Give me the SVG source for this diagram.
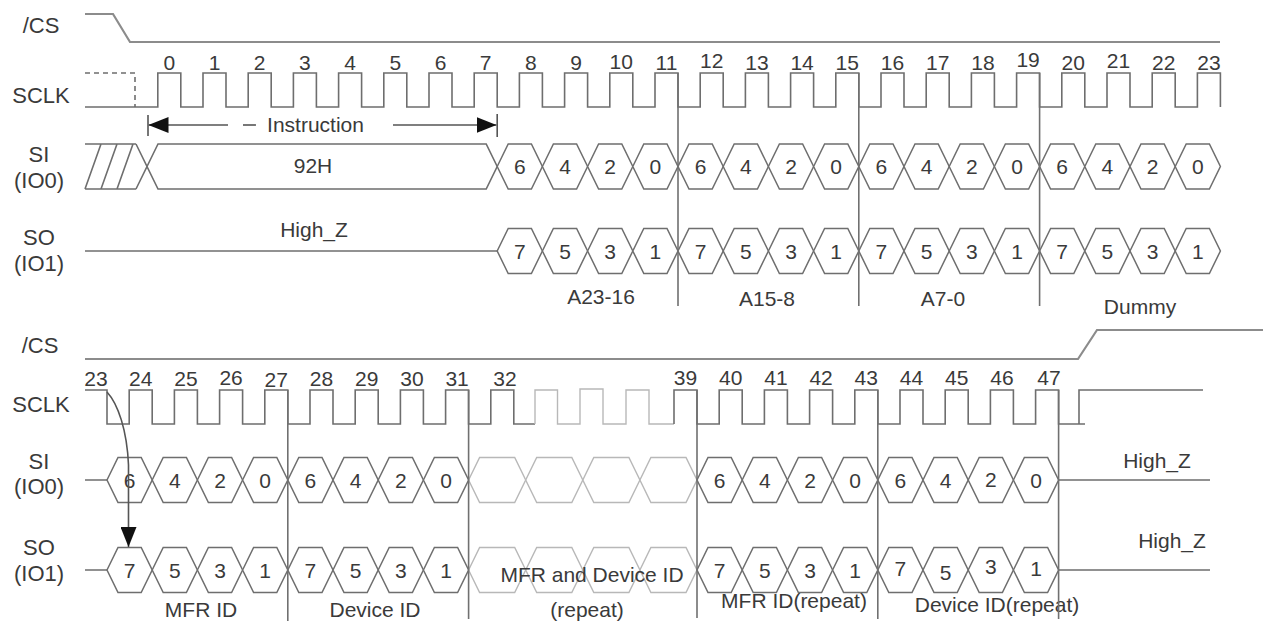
<svg xmlns="http://www.w3.org/2000/svg" width="1263" height="625" viewBox="0 0 1263 625">
<style>
text{font-family:"Liberation Sans",Arial,sans-serif;fill:#3a3a3a;font-size:21px}
.m{text-anchor:middle}
.lbl{font-size:22px;text-anchor:middle}
.w{fill:none;stroke:#6e6e6e;stroke-width:1.6}
.cs{fill:none;stroke:#8c8c8c;stroke-width:2.2}
.f{fill:none;stroke:#b8b8b8;stroke-width:1.4}
.v{fill:none;stroke:#707070;stroke-width:1.6}
.ar{fill:none;stroke:#555;stroke-width:1.6}
</style>
<defs>
<path id="c" d="M0,0 L11,-22.5 H34.2 L45.2,0 L34.2,22.5 H11 Z" fill="#fff" stroke="#6e6e6e" stroke-width="1.5"/>
<path id="fc" d="M0,0 L11,-22.5 H46.1 L57.1,0 L46.1,22.5 H11 Z" fill="none" stroke="#b8b8b8" stroke-width="1.4"/>
<marker id="ah" viewBox="0 0 20 16" refX="20" refY="8" markerWidth="20" markerHeight="16" markerUnits="userSpaceOnUse" orient="auto"><path d="M0,0 L20,8 L0,16 Z" fill="#111"/></marker>
</defs>
<rect width="1263" height="625" fill="#fff"/>

<g id="labels">
<text class="lbl" x="41" y="33">/CS</text>
<text class="lbl" x="41" y="103">SCLK</text>
<text class="lbl" x="39" y="162">SI</text>
<text class="lbl" x="39" y="188">(IO0)</text>
<text class="lbl" x="39" y="245">SO</text>
<text class="lbl" x="39" y="271">(IO1)</text>
<text class="lbl" x="40" y="353">/CS</text>
<text class="lbl" x="41" y="412">SCLK</text>
<text class="lbl" x="39" y="469">SI</text>
<text class="lbl" x="39" y="494">(IO0)</text>
<text class="lbl" x="39" y="555">SO</text>
<text class="lbl" x="39" y="581">(IO1)</text>
</g>

<g id="cs-top"><path class="cs" d="M85,14 H113 L130,42 H1220"/></g>

<g id="sclk-top">
<path class="w" d="M85,73 H135 V107" stroke-dasharray="5,4"/>
<path class="w" d="M85,107 H157.8 V73 H180.8 V107 H203 V73 H226 V107 H248.2 V73 H271.2 V107 H293.4 V73 H316.4 V107 H338.6 V73 H361.6 V107 H383.8 V73 H406.8 V107 H429 V73 H452 V107 H474.2 V73 H497.2 V107 H519.4 V73 H542.4 V107 H564.6 V73 H587.6 V107 H609.8 V73 H632.8 V107 H655 V73 H678 V107 H700.2 V73 H723.2 V107 H745.4 V73 H768.4 V107 H790.6 V73 H813.6 V107 H835.8 V73 H858.8 V107 H881 V73 H904 V107 H926.2 V73 H949.2 V107 H971.4 V73 H994.4 V107 H1016.6 V73 H1039.6 V107 H1061.8 V73 H1084.8 V107 H1107 V73 H1130 V107 H1152.2 V73 H1175.2 V107 H1197.4 V73 H1220.4 V107"/>
<g class="m">
<text x="169.3" y="70">0</text><text x="214.5" y="70">1</text><text x="259.7" y="70">2</text><text x="304.9" y="70">3</text><text x="350.1" y="70">4</text><text x="395.3" y="70">5</text><text x="440.5" y="70">6</text><text x="485.7" y="70">7</text><text x="530.9" y="70">8</text><text x="576.1" y="70">9</text><text x="621.3" y="69">10</text><text x="666.5" y="70">11</text><text x="711.7" y="68">12</text><text x="756.9" y="70">13</text><text x="802.1" y="70">14</text><text x="847.3" y="70">15</text><text x="892.5" y="70">16</text><text x="937.7" y="70">17</text><text x="982.9" y="70">18</text><text x="1028.1" y="67">19</text><text x="1073.3" y="70">20</text><text x="1118.5" y="68">21</text><text x="1163.7" y="70">22</text><text x="1208.9" y="70">23</text>
</g>
</g>

<g id="si-top">
<path class="w" d="M85,144 H136 M85,189 H136 M85,189 L101,144 M101,189 L117,144 M117,189 L133,144 M136,144 L147,166.5 L136,189"/>
<path class="w" d="M147,166.5 L158,144 H486.2 L497.2,166.5 L486.2,189 H158 Z"/>
<text class="m" x="313" y="173">92H</text>
<use href="#c" x="497.2" y="166.5"/><use href="#c" x="542.4" y="166.5"/><use href="#c" x="587.6" y="166.5"/><use href="#c" x="632.8" y="166.5"/><use href="#c" x="678" y="166.5"/><use href="#c" x="723.2" y="166.5"/><use href="#c" x="768.4" y="166.5"/><use href="#c" x="813.6" y="166.5"/><use href="#c" x="858.8" y="166.5"/><use href="#c" x="904" y="166.5"/><use href="#c" x="949.2" y="166.5"/><use href="#c" x="994.4" y="166.5"/><use href="#c" x="1039.6" y="166.5"/><use href="#c" x="1084.8" y="166.5"/><use href="#c" x="1130" y="166.5"/><use href="#c" x="1175.2" y="166.5"/>
<g class="m">
<text x="519.8" y="174">6</text><text x="565" y="174">4</text><text x="610.2" y="174">2</text><text x="655.4" y="174">0</text><text x="700.6" y="174">6</text><text x="745.8" y="174">4</text><text x="791" y="174">2</text><text x="836.2" y="174">0</text><text x="881.4" y="174">6</text><text x="926.6" y="174">4</text><text x="971.8" y="174">2</text><text x="1017" y="174">0</text><text x="1062.2" y="174">6</text><text x="1107.4" y="174">4</text><text x="1152.6" y="174">2</text><text x="1197.8" y="174">0</text>
</g>
</g>

<g id="so-top">
<path class="w" d="M85,251 H497.2"/>
<text class="m" x="314" y="237">High_Z</text>
<use href="#c" x="497.2" y="251"/><use href="#c" x="542.4" y="251"/><use href="#c" x="587.6" y="251"/><use href="#c" x="632.8" y="251"/><use href="#c" x="678" y="251"/><use href="#c" x="723.2" y="251"/><use href="#c" x="768.4" y="251"/><use href="#c" x="813.6" y="251"/><use href="#c" x="858.8" y="251"/><use href="#c" x="904" y="251"/><use href="#c" x="949.2" y="251"/><use href="#c" x="994.4" y="251"/><use href="#c" x="1039.6" y="251"/><use href="#c" x="1084.8" y="251"/><use href="#c" x="1130" y="251"/><use href="#c" x="1175.2" y="251"/>
<g class="m">
<text x="519.8" y="259">7</text><text x="565" y="259">5</text><text x="610.2" y="259">3</text><text x="655.4" y="259">1</text><text x="700.6" y="259">7</text><text x="745.8" y="259">5</text><text x="791" y="259">3</text><text x="836.2" y="259">1</text><text x="881.4" y="259">7</text><text x="926.6" y="259">5</text><text x="971.8" y="259">3</text><text x="1017" y="259">1</text><text x="1062.2" y="259">7</text><text x="1107.4" y="259">5</text><text x="1152.6" y="259">3</text><text x="1197.8" y="259">1</text>
</g>
<text class="m" x="601" y="304">A23-16</text>
<text class="m" x="767" y="306">A15-8</text>
<text class="m" x="943" y="306">A7-0</text>
<text class="m" x="1140" y="314">Dummy</text>
</g>

<g id="cs-bottom"><path class="cs" d="M85,359 H1078 L1097,330 H1263"/></g>

<g id="sclk-bottom">
<path class="w" d="M85,390 H107 V424 H129.2 V390 H152.2 V424 H174.4 V390 H197.4 V424 H219.6 V390 H242.6 V424 H264.8 V390 H287.8 V424 H310 V390 H333 V424 H355.2 V390 H378.2 V424 H400.4 V390 H423.4 V424 H445.6 V390 H468.6 V424 H490.8 V390 H513.8 V424 H535"/>
<path class="f" d="M535,424 V390 H557.5 V424 H580 V389 H603 V424 H626 V390 H649 V424 H674"/>
<path class="w" d="M674,424 V390 H697 V424 H719.2 V390 H742.2 V424 H764.4 V390 H787.4 V424 H809.6 V390 H832.6 V424 H854.8 V390 H877.8 V424 H900 V390 H923 V424 H945.2 V390 H968.2 V424 H990.4 V390 H1013.4 V424 H1035.6 V390 H1058.6 V424 H1085 M1079,424 V390 H1203"/>
<g class="m">
<text x="96" y="386">23</text><text x="140.7" y="386">24</text><text x="185.9" y="386">25</text><text x="231.1" y="385">26</text><text x="276.3" y="387">27</text><text x="321.5" y="386">28</text><text x="366.7" y="386">29</text><text x="411.9" y="386">30</text><text x="457.1" y="386">31</text><text x="505" y="386">32</text><text x="685.5" y="385">39</text><text x="730.7" y="385">40</text><text x="775.9" y="385">41</text><text x="821.1" y="385">42</text><text x="866.3" y="385">43</text><text x="911.5" y="385">44</text><text x="956.7" y="385">45</text><text x="1001.9" y="385">46</text><text x="1049" y="385">47</text>
</g>
</g>

<g id="si-bottom">
<path class="w" d="M85,480 H107 M1058.6,480 H1210"/>
<use href="#c" x="107" y="480"/><use href="#c" x="152.2" y="480"/><use href="#c" x="197.4" y="480"/><use href="#c" x="242.6" y="480"/><use href="#c" x="287.8" y="480"/><use href="#c" x="333" y="480"/><use href="#c" x="378.2" y="480"/><use href="#c" x="423.4" y="480"/>
<use href="#fc" x="468.6" y="480"/><use href="#fc" x="525.7" y="480"/><use href="#fc" x="582.8" y="480"/><use href="#fc" x="639.9" y="480"/>
<use href="#c" x="697" y="480"/><use href="#c" x="742.2" y="480"/><use href="#c" x="787.4" y="480"/><use href="#c" x="832.6" y="480"/><use href="#c" x="877.8" y="480"/><use href="#c" x="923" y="480"/><use href="#c" x="968.2" y="480"/><use href="#c" x="1013.4" y="480"/>
<g class="m">
<text x="129.6" y="488">6</text><text x="174.8" y="488">4</text><text x="220" y="488">2</text><text x="265.2" y="488">0</text><text x="310.4" y="488">6</text><text x="355.6" y="488">4</text><text x="400.8" y="488">2</text><text x="446" y="488">0</text>
<text x="719.6" y="488">6</text><text x="764.8" y="488">4</text><text x="810" y="488">2</text><text x="855.2" y="488">0</text><text x="900.4" y="488">6</text><text x="945.6" y="488">4</text><text x="990.8" y="487">2</text><text x="1036" y="488">0</text>
</g>
<text class="m" x="1157" y="468">High_Z</text>
</g>

<g id="so-bottom">
<path class="w" d="M85,570 H107 M1058.6,570 H1210"/>
<use href="#c" x="107" y="570"/><use href="#c" x="152.2" y="570"/><use href="#c" x="197.4" y="570"/><use href="#c" x="242.6" y="570"/><use href="#c" x="287.8" y="570"/><use href="#c" x="333" y="570"/><use href="#c" x="378.2" y="570"/><use href="#c" x="423.4" y="570"/>
<use href="#fc" x="468.6" y="570"/><use href="#fc" x="525.7" y="570"/><use href="#fc" x="582.8" y="570"/><use href="#fc" x="639.9" y="570"/>
<use href="#c" x="697" y="570"/><use href="#c" x="742.2" y="570"/><use href="#c" x="787.4" y="570"/><use href="#c" x="832.6" y="570"/><use href="#c" x="877.8" y="570"/><use href="#c" x="923" y="570"/><use href="#c" x="968.2" y="570"/><use href="#c" x="1013.4" y="570"/>
<g class="m">
<text x="129.6" y="578">7</text><text x="174.8" y="578">5</text><text x="220" y="578">3</text><text x="265.2" y="578">1</text><text x="310.4" y="578">7</text><text x="355.6" y="578">5</text><text x="400.8" y="578">3</text><text x="446" y="578">1</text>
<text x="719.6" y="578">7</text><text x="764.8" y="578">5</text><text x="810" y="578">3</text><text x="855.2" y="578">1</text><text x="900.4" y="576">7</text><text x="945.6" y="580">5</text><text x="990.8" y="574">3</text><text x="1036" y="576">1</text>
</g>
<text class="m" x="592" y="582">MFR and Device ID</text>
<text class="m" x="587" y="617">(repeat)</text>
<text class="m" x="1172" y="548">High_Z</text>
<text class="m" x="201" y="617">MFR ID</text>
<text class="m" x="375" y="617">Device ID</text>
<text class="m" x="794" y="608">MFR ID(repeat)</text>
<text class="m" x="997" y="612">Device ID(repeat)</text>
</g>

<g id="connectors">
<path class="v" d="M678,73 V306 M858.8,73 V306 M1039.6,73 V306"/>
<path class="v" d="M287.8,390 V621 M468.6,390 V619 M697,390 V618 M877.8,390 V619 M1058.6,390 V619"/>
<path class="ar" d="M148,115 V136 M497.2,114 V137"/>
<path class="ar" d="M228,125 H148.5" marker-end="url(#ah)"/>
<path class="ar" d="M243,125 H256"/>
<text class="m" x="315.5" y="132">Instruction</text>
<path class="ar" d="M393,125 H496.5" marker-end="url(#ah)"/>
<path class="ar" d="M107,392 C118,404 127,430 128.5,465 V547" marker-end="url(#ah)"/>
</g>
</svg>
